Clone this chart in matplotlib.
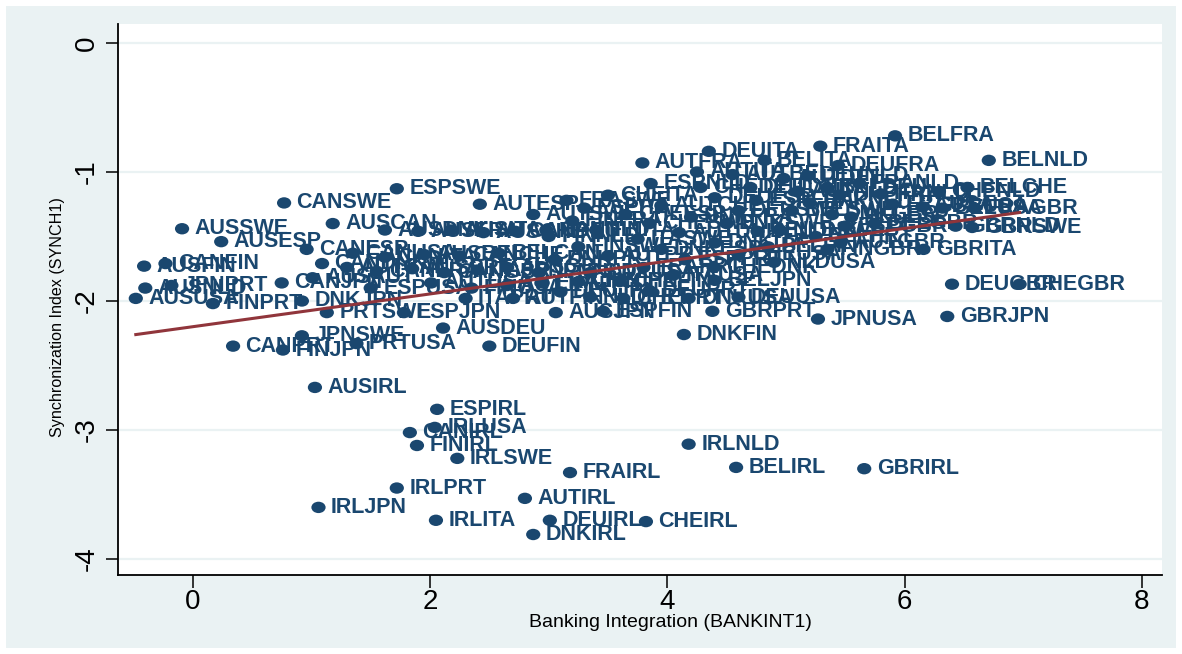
import matplotlib
matplotlib.use('Agg')
import matplotlib.pyplot as plt
import numpy as np
from matplotlib import font_manager
from matplotlib.patches import Rectangle
from matplotlib.path import Path
from matplotlib.transforms import Affine2D

# country pairs, banking integration (x) and synchronization index (y)
pairs = [
    # Ireland pairs (bottom)
    'AUSIRL', 'ESPIRL', 'IRLUSA', 'CANIRL', 'FINIRL', 'IRLSWE', 'FRAIRL', 'IRLNLD', 'BELIRL',
    'GBRIRL', 'IRLPRT', 'AUTIRL', 'IRLJPN', 'IRLITA', 'DEUIRL', 'CHEIRL', 'DNKIRL',
    # upper / right
    'BELFRA', 'FRAITA', 'DEUITA', 'BELNLD', 'AUTFRA', 'BELITA', 'DEUFRA', 'AUTITA', 'ESPNLD',
    'DEUNLD', 'BELDEU', 'BELCHE', 'CHENLD', 'BELUSA', 'FRAGBR', 'GBRNLD', 'GBRSWE', 'ESPGBR',
    'AUTGBR', 'DNKGBR', 'GBRITA', 'DEUGBR', 'CHEGBR', 'GBRJPN', 'JPNUSA', 'GBRPRT', 'DNKFIN',
    # left
    'CANSWE', 'ESPSWE', 'AUTESP', 'FRASWE', 'AUTSWE', 'AUSSWE', 'AUSCAN', 'AUSESP', 'CANESP',
    'CANFIN', 'AUSFIN', 'AUSNLD', 'AUSUSA', 'JPNPRT', 'FINPRT', 'DNKJPN', 'AUSAUT', 'CANPRT',
    'FINJPN', 'JPNSWE', 'PRTUSA', 'PRTSWE', 'ESPJPN', 'AUTUSA', 'AUSDEU', 'DEUFIN', 'AUSJPN',
    'AUTFIN', 'ESPFIN', 'CHEPRT', 'DNKUSA', 'DEUUSA', 'CHEDNK', 'BELJPN', 'BELDNK',
    # crowded left part of the cloud
    'AUSDNK', 'AUSFRA', 'AUSITA', 'AUSCHE', 'CANDEU', 'CANNLD', 'CANDNK', 'CANUSA', 'CANITA',
    'AUSBEL', 'CANCHE', 'BELCAN', 'CANJPN', 'AUTCAN', 'CANFRA', 'AUSPRT', 'CANGBR', 'ITAJPN',
    'AUSGBR', 'JPNNLD', 'ESPUSA', 'FINUSA', 'AUTJPN', 'FRAJPN', 'CHEJPN', 'ITAPRT', 'NLDPRT',
    # crowded middle part of the cloud
    'AUTBEL', 'AUTDEU', 'FRANLD', 'CHEDEU', 'AUTNLD', 'ITANLD', 'CHEITA', 'DEUESP', 'ESPFRA',
    'DNKNLD', 'FRAUSA', 'AUTCHE', 'ESPITA', 'DEUSWE', 'BELSWE', 'CHEESP', 'DNKFRA', 'BELESP',
    'FINFRA', 'CHESWE', 'DNKSWE', 'NLDSWE', 'FINITA', 'AUTDNK', 'BELPRT', 'FINNLD', 'ITASWE',
    'DNKITA', 'BELFIN', 'FINSWE', 'DNKESP', 'CHEUSA', 'FINGBR', 'AUTPRT', 'ESPPRT', 'DNKPRT',
    'FRAPRT', 'NLDUSA', 'SWEUSA', 'ITAUSA', 'CHEFIN', 'DEUPRT', 'BELGBR', 'GBRUSA', 'CHEFRA',
    'DEUDNK', 'DEUJPN',
]

bankint = [
    1.03, 2.06, 2.04, 1.83, 1.89, 2.23, 3.18, 4.18, 4.58,
    5.66, 1.72, 2.80, 1.06, 2.05, 3.01, 3.82, 2.87,
    5.92, 5.29, 4.35, 6.71, 3.79, 4.82, 5.44, 4.25, 3.86,
    5.18, 5.35, 6.53, 6.29, 6.32, 6.59, 6.43, 6.57, 5.50,
    5.46, 5.39, 6.16, 6.40, 6.97, 6.36, 5.27, 4.38, 4.14,
    0.77, 1.72, 2.42, 3.15, 2.87, -0.09, 1.18, 0.24, 0.96,
    -0.23, -0.41, -0.40, -0.48, -0.18, 0.17, 0.92, 1.01, 0.34,
    0.76, 0.92, 1.38, 1.13, 1.78, 2.01, 2.11, 2.50, 3.06,
    2.70, 3.46, 3.63, 4.18, 4.60, 4.39, 4.40, 4.76,
    1.62, 1.90, 2.18, 2.45, 2.72, 2.98, 1.09, 1.35, 1.62,
    1.95, 2.25, 2.58, 0.75, 1.30, 1.55, 1.85, 2.12, 2.40,
    2.65, 2.92, 1.50, 2.35, 2.65, 2.95, 3.25, 2.30, 3.35,
    4.55, 4.98, 5.62, 4.28, 5.10, 5.80, 3.50, 4.40, 4.75,
    5.20, 5.90, 3.95, 3.30, 4.60, 5.05, 3.65, 4.20, 5.55,
    3.20, 3.85, 4.50, 4.95, 3.40, 4.10, 5.25, 3.00, 3.75,
    4.40, 4.85, 3.25, 3.95, 4.60, 5.35, 3.50, 4.15, 3.05,
    3.80, 4.90, 3.35, 4.05, 3.60, 3.85, 5.75, 6.15, 5.45,
    4.70, 3.10,
]

synch = [
    -2.67, -2.84, -2.98, -3.02, -3.12, -3.22, -3.33, -3.11, -3.29,
    -3.30, -3.45, -3.53, -3.60, -3.70, -3.70, -3.71, -3.81,
    -0.72, -0.80, -0.84, -0.91, -0.93, -0.91, -0.95, -1.00, -1.09,
    -1.03, -1.12, -1.12, -1.15, -1.28, -1.28, -1.42, -1.43, -1.42,
    -1.55, -1.33, -1.60, -1.87, -1.87, -2.12, -2.14, -2.08, -2.26,
    -1.24, -1.13, -1.25, -1.22, -1.33, -1.44, -1.40, -1.54, -1.60,
    -1.71, -1.73, -1.90, -1.98, -1.88, -2.02, -2.00, -1.82, -2.35,
    -2.38, -2.27, -2.33, -2.09, -2.09, -1.86, -2.21, -2.35, -2.09,
    -1.98, -2.08, -1.98, -1.98, -1.97, -1.74, -1.84, -1.46,
    -1.45, -1.46, -1.45, -1.47, -1.46, -1.45, -1.71, -1.63, -1.66,
    -1.64, -1.65, -1.63, -1.86, -1.74, -1.77, -1.75, -1.78, -1.76,
    -1.74, -1.78, -1.90, -1.90, -1.88, -1.86, -1.85, -1.98, -1.97,
    -1.02, -1.05, -1.09, -1.12, -1.15, -1.17, -1.18, -1.20, -1.22,
    -1.24, -1.25, -1.26, -1.28, -1.30, -1.30, -1.33, -1.35, -1.35,
    -1.38, -1.40, -1.40, -1.45, -1.45, -1.47, -1.50, -1.50, -1.52,
    -1.55, -1.58, -1.58, -1.60, -1.64, -1.60, -1.65, -1.68, -1.68,
    -1.74, -1.70, -1.78, -1.80, -1.85, -1.92, -1.40, -1.27, -1.18,
    -1.12, -1.93,
]

x_ticks = [0, 2, 4, 6, 8]
y_ticks = [0, -1, -2, -3, -4]

NAVY = '#1A476F'
RED = '#90353B'
BG = '#EAF2F3'

# narrow face for axis text if it exists, otherwise plain Liberation Sans a bit smaller
names = {f.name for f in font_manager.fontManager.ttflist}
if 'Liberation Sans Narrow' in names:
    AXFONT, TICK_FS, XL_FS, YL_FS = 'Liberation Sans Narrow', 23, 16.5, 13.5
else:
    AXFONT, TICK_FS, XL_FS, YL_FS = 'Liberation Sans', 20, 14, 11.6

fig = plt.figure(figsize=(11.82, 6.54), dpi=100)
fig.patch.set_facecolor('white')
fig.patches.append(Rectangle((6 / 1182, 6 / 654), 1170 / 1182, 642 / 654,
                             transform=fig.transFigure, facecolor=BG,
                             edgecolor='none', zorder=-10))

ax = fig.add_axes([118 / 1182, 1 - 575 / 654, 1044 / 1182, 551 / 654])
ax.set_facecolor('white')
ax.set_xlim(-0.63, 8.17)
ax.set_ylim(-4.124, 0.147)

for yt in y_ticks:
    ax.axhline(yt, color=BG, lw=1.6, zorder=0)

# slightly wide dot like the Stata export
oval = Path.unit_circle().transformed(Affine2D().scale(1.25, 1.0))

x = np.array(bankint)
y = np.array(synch)
ax.scatter(x, y, s=105, marker=oval, color=NAVY, edgecolors='none', zorder=3)
for lab, xi, yi in zip(pairs, x, y):
    ax.annotate(lab, (xi, yi), xytext=(9, 0), textcoords='offset points',
                ha='left', va='center', fontsize=15.5, fontweight='bold',
                color=NAVY, family='Liberation Sans', zorder=4)

# linear fit across the data range
b, a = np.polyfit(x, y, 1)
xs = np.array([x.min(), x.max()])
ax.plot(xs, a + b * xs, color=RED, lw=2.2, zorder=5)

for s in ['top', 'right']:
    ax.spines[s].set_visible(False)
for s in ['left', 'bottom']:
    ax.spines[s].set_color('black')
    ax.spines[s].set_linewidth(1.3)

ax.set_xticks(x_ticks)
ax.set_yticks(y_ticks)
ax.set_yticklabels([str(t) for t in y_ticks], rotation=90, va='center')
ax.tick_params(axis='both', direction='out', length=9, width=1.1, color='black',
               labelsize=TICK_FS)
ax.tick_params(axis='x', pad=1)
ax.tick_params(axis='y', pad=4)
for t in ax.get_xticklabels() + ax.get_yticklabels():
    t.set_family(AXFONT)

ax.set_xlabel('Banking Integration (BANKINT1)', fontsize=XL_FS, family=AXFONT)
ax.set_ylabel('Synchronization Index (SYNCH1)', fontsize=YL_FS, family=AXFONT)
ax.xaxis.set_label_coords(0.529, -0.0853)
ax.yaxis.set_label_coords(-0.0575, 0.468)
ax.xaxis.label.set_va('center')
ax.yaxis.label.set_va('center')

fig.savefig('out.png', dpi=100, facecolor='white')
